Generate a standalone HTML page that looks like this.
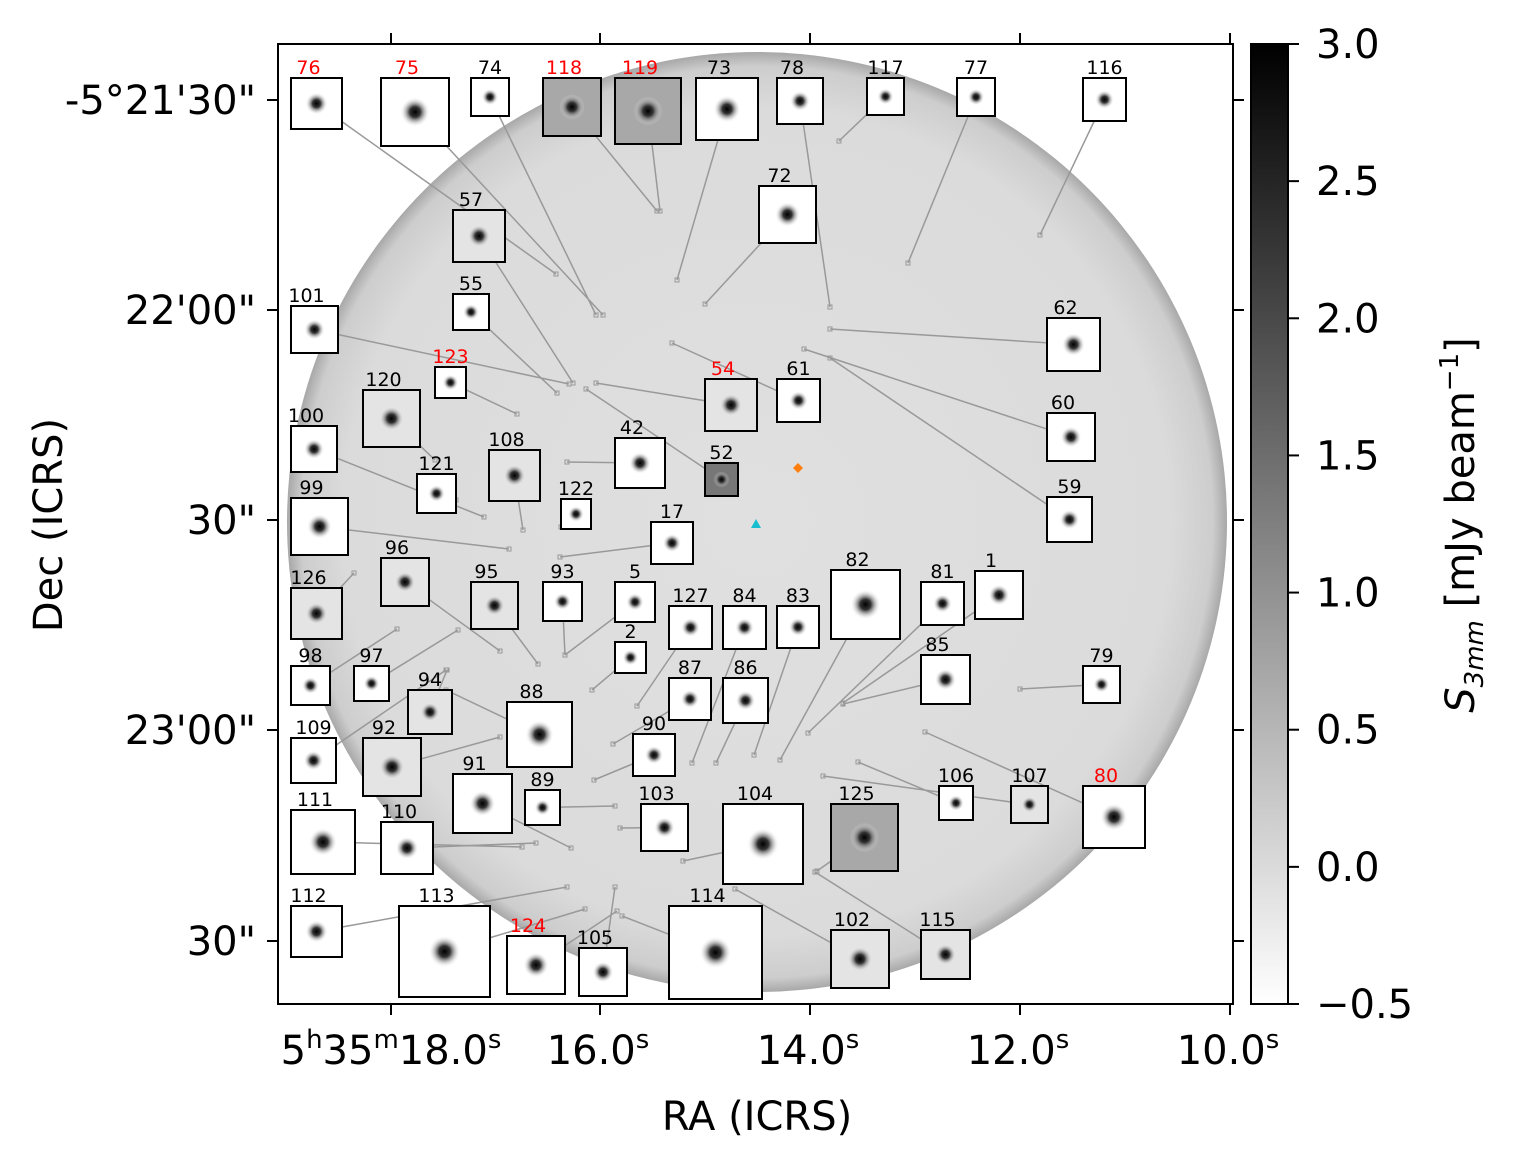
<!DOCTYPE html>
<html><head><meta charset="utf-8"><style>
body{margin:0;background:#fff;}
svg text{font-family:"DejaVu Sans","Liberation Sans",sans-serif;}
</style></head><body>
<svg id="fig" width="1515" height="1168" viewBox="0 0 1515 1168" xmlns="http://www.w3.org/2000/svg">
<defs>
<radialGradient id="disk" cx="0.5" cy="0.5" r="0.5">
<stop offset="0" stop-color="#e0e0e0"/><stop offset="0.88" stop-color="#dbdbdb"/><stop offset="0.97" stop-color="#cdcdcd"/><stop offset="1" stop-color="#a8a8a8"/>
</radialGradient>
<radialGradient id="blob" cx="0.5" cy="0.5" r="0.5">
<stop offset="0" stop-color="#000"/><stop offset="0.35" stop-color="#333"/><stop offset="1" stop-color="#fff" stop-opacity="0"/>
</radialGradient>
<linearGradient id="cbar" x1="0" y1="0" x2="0" y2="1">
<stop offset="0" stop-color="#000"/><stop offset="1" stop-color="#fff"/>
</linearGradient>
<clipPath id="plotclip"><rect x="278" y="44" width="955" height="960"/></clipPath>
</defs>
<g clip-path="url(#plotclip)">
<circle cx="757" cy="522" r="470" fill="url(#disk)"/>
</g>
<g id="lines"></g>
<g id="cutouts"></g>
<polygon points="798,463 803,468 798,473 793,468" fill="#ff7f0e"/>
<polygon points="756,519 761,528 751,528" fill="#17becf"/>
<rect x="278" y="44" width="955" height="960" fill="none" stroke="#000" stroke-width="2"/>
<g id="axes"></g>
<rect x="1251" y="44" width="37" height="960" fill="url(#cbar)" stroke="#000" stroke-width="2"/>
<text transform="translate(62,525) rotate(-90)" text-anchor="middle" font-size="40">Dec (ICRS)</text>
<text x="757" y="1130" text-anchor="middle" font-size="40">RA (ICRS)</text>
<text transform="translate(1474,525) rotate(-90)" text-anchor="middle" font-size="40"><tspan font-style="italic">S</tspan><tspan font-style="italic" font-size="26" dy="9">3mm</tspan><tspan dy="-9"> [mJy beam</tspan><tspan font-size="26" dy="-16">−1</tspan><tspan dy="16">]</tspan></text>
</svg>
<script>
const NS="http://www.w3.org/2000/svg";
function mk(tag,attrs,parent,txt){const e=document.createElementNS(NS,tag);for(const k in attrs)e.setAttribute(k,attrs[k]);if(txt!==undefined)e.textContent=txt;parent.appendChild(e);return e;}
const xTickLabels=["5h35m18.0s","16.0s","14.0s","12.0s","10.0s"];
const xTickPos=[391,600,810,1020,1230];
const yTickLabels=["-5°21'30\"","22'00\"","30\"","23'00\"","30\""];
const yTickPos=[100,310,520,730,941];
const cbarTicks=[3.0,2.5,2.0,1.5,1.0,0.5,0.0,-0.5];
const cbarMin=-0.5, cbarMax=3.0;
const cy=v=>1004-(v-cbarMin)/(cbarMax-cbarMin)*960;
const axes=document.getElementById('axes');
xTickLabels.forEach((l,i)=>{
 const x=xTickPos[i];
 const t1=mk('line',{x1:x,y1:1004,x2:x,y2:1015,stroke:'#000','stroke-width':2},axes);
 
 const t2=mk('line',{x1:x,y1:44,x2:x,y2:33,stroke:'#000','stroke-width':2},axes);
 
 let txt;
 if(i===0){txt=mk('text',{x:x,y:1064,'text-anchor':'middle','font-size':40},axes);
  txt.innerHTML='5<tspan font-size="26" dy="-16">h</tspan><tspan dy="16">35</tspan><tspan font-size="26" dy="-16">m</tspan><tspan dy="16">18.0</tspan><tspan font-size="26" dy="-16">s</tspan>';}
 else{const n=l.replace('s','');txt=mk('text',{x:x-2,y:1064,'text-anchor':'middle','font-size':40},axes);
  txt.innerHTML=n+'<tspan font-size="26" dy="-16">s</tspan>';}
 
});
yTickLabels.forEach((l,i)=>{
 const y=yTickPos[i];
 const t1=mk('line',{x1:278,y1:y,x2:267,y2:y,stroke:'#000','stroke-width':2},axes);
 
 const t2=mk('line',{x1:1233,y1:y,x2:1244,y2:y,stroke:'#000','stroke-width':2},axes);
 
 const txt=mk('text',{x:256,y:y+14,'text-anchor':'end','font-size':40},axes,l);
 
});
cbarTicks.forEach(v=>{
 const y=cy(v);
 const t=mk('line',{x1:1288,y1:y,x2:1299,y2:y,stroke:'#000','stroke-width':2},axes);
 
 const txt=mk('text',{x:v<0?1316:1316,y:y+14,'font-size':40},axes,(v<0?'−':'')+Math.abs(v).toFixed(1));
 
});
// cutouts: label, x, y, size, red, dark, leader end x, y
const cutouts=[
["76",291,78,51,1,0,556,274],["75",381,78,68,1,0,603,315],["74",471,78,38,0,0,596,315],
["118",543,78,58,1,2,657,211],["119",615,78,66,1,2,660,211],["73",696,78,62,0,0,677,280],
["78",777,78,46,0,0,830,307],["117",867,78,37,0,0,839,141],["77",957,78,38,0,0,908,263],
["116",1083,78,43,0,0,1040,235],["72",759,186,57,0,0,705,304],["57",453,210,52,0,1,573,383],
["55",453,294,36,0,0,557,393],["101",291,306,47,0,0,569,384],["62",1047,318,53,0,0,830,329],
["123",435,367,31,1,0,517,414],["54",705,379,52,1,1,596,383],["61",777,379,43,0,0,672,343],
["120",363,390,57,0,1,435,460],["60",1047,413,48,0,0,804,349],["100",291,426,46,0,0,484,517],
["108",489,450,51,0,1,523,530],["42",615,438,50,0,0,567,462],["52",705,463,33,0,3,586,389],
["121",417,474,39,0,0,456,500],["59",1047,497,45,0,0,830,358],["99",291,498,57,0,0,509,549],
["122",561,499,30,0,0,561,527],["17",651,522,42,0,0,560,557],["82",831,570,69,0,0,780,760],
["96",381,558,48,0,1,500,651],["1",975,571,48,0,0,843,703],["81",921,582,43,0,0,808,733],
["95",471,582,47,0,1,538,664],["93",543,582,39,0,0,565,655],["5",615,582,40,0,0,565,655],
["126",291,588,51,0,1,354,573],["127",669,606,43,0,0,637,706],["84",723,606,43,0,0,692,763],
["83",777,606,42,0,0,754,755],["2",615,642,31,0,0,592,690],["85",921,655,49,0,0,843,704],
["79",1083,666,37,0,0,1020,689],["98",291,666,39,0,0,397,629],["97",354,666,35,0,0,458,630],
["94",408,690,44,0,1,447,670],["87",669,678,42,0,0,613,744],["86",723,678,45,0,0,716,763],
["88",507,702,65,0,0,446,690],["109",291,738,45,0,0,446,670],["92",363,738,58,0,1,500,737],
["90",633,734,42,0,0,594,780],["91",453,774,59,0,0,571,848],["89",525,790,35,0,0,615,806],
["106",939,786,34,0,0,858,762],["107",1011,786,37,0,1,823,776],["80",1083,786,62,1,0,925,732],
["111",291,810,64,0,0,522,847],["110",381,822,52,0,0,536,843],["103",641,804,47,0,0,620,828],
["104",723,804,80,0,0,683,861],["125",831,804,67,0,2,817,871],["112",291,906,51,0,0,567,887],
["113",399,906,91,0,0,585,909],["124",507,936,58,1,0,617,911],["105",579,948,48,0,0,615,887],
["114",669,906,93,0,0,622,916],["102",831,930,58,0,1,735,889],["115",921,930,49,0,1,815,872]
];
const lg=document.getElementById('lines'),cg=document.getElementById('cutouts');
const bgFill=["#fff","#e4e4e4","#a8a8a8","#777"];
cutouts.forEach(c=>{
 const [lab,x,y,s,red,dark,ex,ey]=c;
 const cx=x+s/2,cyy=y+s/2;
 const dx=ex-cx,dy=ey-cyy;
 const k=Math.min(Math.abs((s/2)/(dx||1e-9)),Math.abs((s/2)/(dy||1e-9)));
 const sx=cx+dx*k, sy=cyy+dy*k;
 const ln=mk('line',{x1:sx,y1:sy,x2:ex,y2:ey,stroke:'#999','stroke-width':1.5},lg);
 
 const dot=mk('rect',{x:ex-2,y:ey-2,width:4,height:4,fill:'none',stroke:'#999','stroke-width':1},lg);
 
 const g=mk('g',{},cg);
 
 mk('rect',{x:x,y:y,width:s,height:s,fill:bgFill[dark],stroke:'#000','stroke-width':2},g);
 const r=Math.max(8,Math.min(16,s*0.22));
 mk('circle',{cx:cx,cy:cyy,r:r,fill:'url(#blob)'},g);
 const t=mk('text',{x:x+s/2-(s>45?8:0),y:y-4,'text-anchor':'middle','font-size':19,fill:red?'#ff0000':'#000'},g,lab);
 
});
</script>
</body></html>
